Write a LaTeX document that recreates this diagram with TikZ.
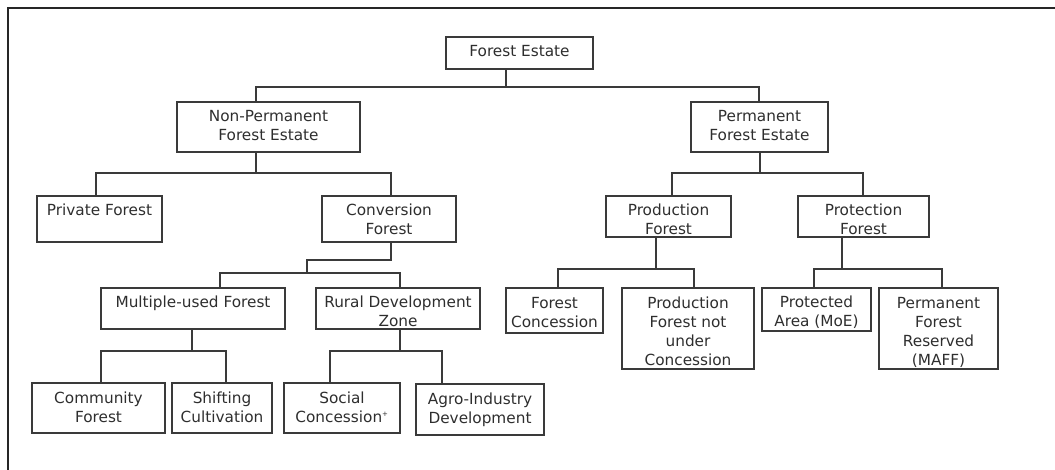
\documentclass[tikz,border=0pt]{standalone}
\usepackage{fontspec}
\setmainfont{DejaVu Sans}
\definecolor{linecol}{HTML}{3A3A3A}
\definecolor{txtcol}{HTML}{2E2E2E}
\tikzset{
  box/.style={draw=linecol, line width=1.3pt, rectangle, inner sep=0pt, text=txtcol},
  conn/.style={draw=linecol, line width=1.3pt},
  frame/.style={draw=black!85, line width=2pt}
}
% \bx{name}{x1}{y1}{x2}{y2}{text}
\newcommand{\bx}[6]{%
  \pgfmathsetmacro{\bw}{#4-#2}%
  \pgfmathsetmacro{\bh}{#5-#3}%
  \node[box, minimum width=\bw pt, minimum height=\bh pt] (#1) at ({(#2+#4)/2},{(#3+#5)/2})
  {\parbox[c][\bh pt][t]{\bw pt}{\fontsize{15.3}{19}\selectfont\centering\rule{0pt}{20pt}#6\par}};%
}
\begin{document}
\begin{tikzpicture}[x=1pt,y=-1pt]
\useasboundingbox (0,0) rectangle (1055,470);
\coordinate (fa) at (8,470);
\coordinate (fb) at (8,8);
\coordinate (fc) at (1055,8);
\draw[frame] (fa) -- (fb) -- (fc);

\bx{fe}{446}{37}{593}{69}{Forest Estate}
\bx{npfe}{177}{102}{360}{152}{Non-Permanent\\Forest Estate}
\bx{pfe}{691}{102}{828}{152}{Permanent\\Forest Estate}
\bx{priv}{37}{196}{162}{242}{Private Forest}
\bx{conv}{322}{196}{456}{242}{Conversion\\Forest}
\bx{prod}{606}{196}{731}{237}{Production\\Forest}
\bx{prot}{798}{196}{929}{237}{Protection\\Forest}
\bx{mult}{101}{288}{285}{329}{Multiple-used Forest}
\bx{rdz}{316}{288}{480}{329}{Rural Development\\Zone}
\bx{fcon}{506}{288}{603}{333}{Forest\\Concession}
\bx{pfnu}{622}{288}{754}{369}{Production\\Forest not\\under\\Concession}
\bx{pa}{762}{288}{871}{331}{Protected\\Area (MoE)}
\bx{pfr}{879}{288}{998}{369}{Permanent\\Forest\\Reserved\\(MAFF)}
\bx{comm}{32}{383}{165}{433}{Community\\Forest}
\bx{shift}{172}{383}{272}{433}{Shifting\\Cultivation}
\bx{soc}{284}{383}{400}{433}{Social\\Concession\textsuperscript{\scriptsize +}}
\bx{agro}{416}{384}{544}{435}{Agro-Industry\\Development}

% Forest Estate -> level 1
\draw[conn] (fe.south -| 506,0) |- (256,87) -- (npfe.north -| 256,0);
\draw[conn] (506,87) -- (759,87) -- (pfe.north -| 759,0);
% NPFE -> children
\draw[conn] (npfe.south -| 256,0) -- (256,173);
\draw[conn] (priv.north -| 96,0) |- (391,173) -- (conv.north -| 391,0);
% PFE -> children
\draw[conn] (pfe.south -| 760,0) -- (760,173);
\draw[conn] (prod.north -| 672,0) |- (863,173) -- (prot.north -| 863,0);
% Conversion -> children
\draw[conn] (conv.south -| 391,0) |- (307,260) -- (307,273);
\draw[conn] (mult.north -| 220,0) |- (400,273) -- (rdz.north -| 400,0);
% Production -> children
\draw[conn] (prod.south -| 656,0) -- (656,269);
\draw[conn] (fcon.north -| 558,0) |- (694,269) -- (pfnu.north -| 694,0);
% Protection -> children
\draw[conn] (prot.south -| 842,0) -- (842,269);
\draw[conn] (pa.north -| 814,0) |- (942,269) -- (pfr.north -| 942,0);
% Multiple-used -> children
\draw[conn] (mult.south -| 192,0) -- (192,351);
\draw[conn] (comm.north -| 101,0) |- (226,351) -- (shift.north -| 226,0);
% RDZ -> children
\draw[conn] (rdz.south -| 400,0) -- (400,351);
\draw[conn] (soc.north -| 330,0) |- (442,351) -- (agro.north -| 442,0);
\end{tikzpicture}
\end{document}
